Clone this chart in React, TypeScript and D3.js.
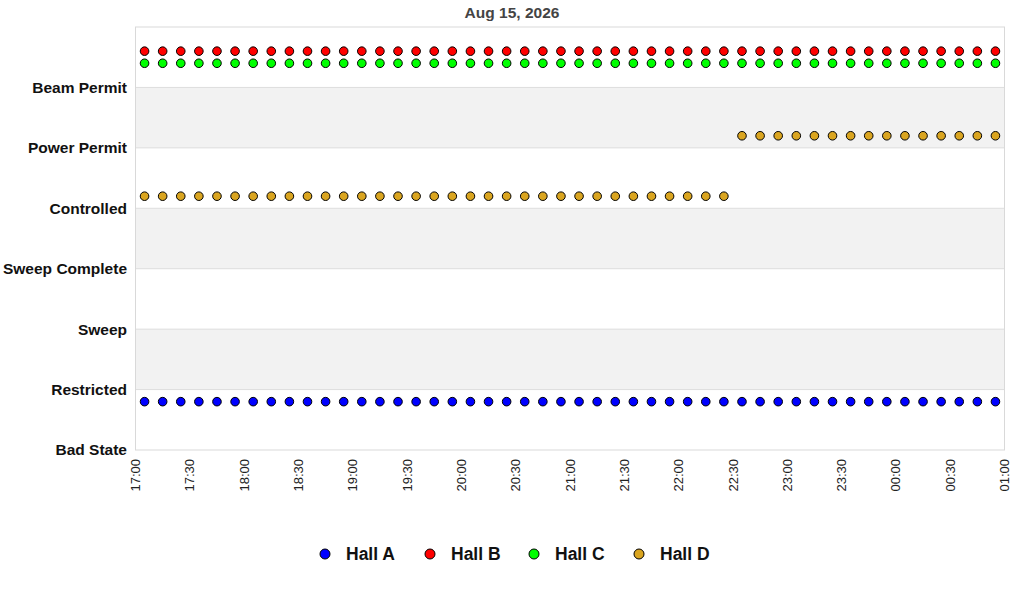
import React, { useRef, useEffect } from 'react';
import * as d3 from 'd3';

// state levels, bottom to top (the top band has no label)
const levels = ['Bad State', 'Restricted', 'Sweep', 'Sweep Complete', 'Controlled', 'Power Permit', 'Beam Permit'];

// sample times (17:05 on Aug 15 through 00:55 on Aug 16)
const times = [
  '17:05', '17:15', '17:25', '17:35', '17:45', '17:55',
  '18:05', '18:15', '18:25', '18:35', '18:45', '18:55',
  '19:05', '19:15', '19:25', '19:35', '19:45', '19:55',
  '20:05', '20:15', '20:25', '20:35', '20:45', '20:55',
  '21:05', '21:15', '21:25', '21:35', '21:45', '21:55',
  '22:05', '22:15', '22:25', '22:35', '22:45', '22:55',
  '23:05', '23:15', '23:25', '23:35', '23:45', '23:55',
  '00:05', '00:15', '00:25', '00:35', '00:45', '00:55',
];

// level index per sample
const hallA = [
  0, 0, 0, 0, 0, 0, 0, 0, 0, 0, 0, 0, 0, 0, 0, 0, 0, 0, 0, 0, 0, 0, 0, 0,
  0, 0, 0, 0, 0, 0, 0, 0, 0, 0, 0, 0, 0, 0, 0, 0, 0, 0, 0, 0, 0, 0, 0, 0,
];
const hallB = [
  6, 6, 6, 6, 6, 6, 6, 6, 6, 6, 6, 6, 6, 6, 6, 6, 6, 6, 6, 6, 6, 6, 6, 6,
  6, 6, 6, 6, 6, 6, 6, 6, 6, 6, 6, 6, 6, 6, 6, 6, 6, 6, 6, 6, 6, 6, 6, 6,
];
const hallC = [
  6, 6, 6, 6, 6, 6, 6, 6, 6, 6, 6, 6, 6, 6, 6, 6, 6, 6, 6, 6, 6, 6, 6, 6,
  6, 6, 6, 6, 6, 6, 6, 6, 6, 6, 6, 6, 6, 6, 6, 6, 6, 6, 6, 6, 6, 6, 6, 6,
];
const hallD = [
  4, 4, 4, 4, 4, 4, 4, 4, 4, 4, 4, 4, 4, 4, 4, 4, 4, 4, 4, 4, 4, 4, 4, 4,
  4, 4, 4, 4, 4, 4, 4, 4, 4, 5, 5, 5, 5, 5, 5, 5, 5, 5, 5, 5, 5, 5, 5, 5,
];

const halls = ['Hall A', 'Hall B', 'Hall C', 'Hall D'];
const hallColors = ['#0000ff', '#ff0000', '#00ff00', '#daa520'];
const hallOffsets = [0.8, 0.6, 0.4, 0.2];
const hallSeries = [hallA, hallB, hallC, hallD];

const title = 'Aug 15, 2026';
const startTime = '2026-08-15 17:00';
const endTime = '2026-08-16 01:00';

const W = 1024;
const H = 600;
const margin = { top: 27, right: 19.5, bottom: 150, left: 135.5 };
const font = 'Arial, "Liberation Sans", Helvetica, sans-serif';

const parse = d3.timeParse('%Y-%m-%d %H:%M');
const toDate = (t: string) => {
  const day = +t.slice(0, 2) < 12 ? '2026-08-16' : '2026-08-15';
  return parse(`${day} ${t}`) as Date;
};

const App: React.FC = () => {
  const svgRef = useRef<SVGSVGElement>(null);

  useEffect(() => {
    if (!svgRef.current) return;
    const svg = d3.select(svgRef.current);
    svg.selectAll('*').remove();

    const x0 = margin.left;
    const x1 = W - margin.right;
    const y0 = H - margin.bottom;
    const y1 = margin.top;

    const x = d3.scaleTime()
      .domain([parse(startTime) as Date, parse(endTime) as Date])
      .range([x0, x1]);
    const y = d3.scaleLinear().domain([0, levels.length]).range([y0, y1]);

    // alternating bands
    svg.append('g')
      .selectAll('rect')
      .data(d3.range(levels.length))
      .enter()
      .append('rect')
      .attr('x', x0)
      .attr('width', x1 - x0)
      .attr('y', (i) => y(i + 1))
      .attr('height', (i) => y(i) - y(i + 1))
      .attr('fill', (i) => (i % 2 === 1 ? '#f2f2f2' : '#ffffff'));

    // horizontal grid lines
    svg.append('g')
      .selectAll('line')
      .data(d3.range(1, levels.length))
      .enter()
      .append('line')
      .attr('x1', x0)
      .attr('x2', x1)
      .attr('y1', (i) => y(i))
      .attr('y2', (i) => y(i))
      .attr('stroke', '#dddddd')
      .attr('stroke-width', 1);

    // plot border
    svg.append('rect')
      .attr('x', x0)
      .attr('y', y1)
      .attr('width', x1 - x0)
      .attr('height', y0 - y1)
      .attr('fill', 'none')
      .attr('stroke', '#d9d9d9')
      .attr('stroke-width', 1);

    // y labels
    svg.append('g')
      .selectAll('text')
      .data(levels)
      .enter()
      .append('text')
      .attr('x', x0 - 8.5)
      .attr('y', (_d, i) => y(i))
      .attr('dy', '0.35em')
      .attr('text-anchor', 'end')
      .attr('font-family', font)
      .attr('font-size', '15.5px')
      .attr('font-weight', 'bold')
      .attr('fill', '#111')
      .text((d) => d);

    // x labels
    const ticks = x.ticks(d3.timeMinute.every(30) as d3.TimeInterval);
    const fmt = d3.timeFormat('%H:%M');
    svg.append('g')
      .selectAll('text')
      .data(ticks)
      .enter()
      .append('text')
      .attr('transform', (d) => `translate(${x(d)}, ${y0 + 9}) rotate(-90)`)
      .attr('dy', '0.35em')
      .attr('text-anchor', 'end')
      .attr('font-family', font)
      .attr('font-size', '13px')
      .attr('fill', '#222')
      .text((d) => fmt(d));

    // points
    hallSeries.forEach((series, h) => {
      svg.append('g')
        .selectAll('circle')
        .data(series)
        .enter()
        .append('circle')
        .attr('cx', (_d, i) => x(toDate(times[i])))
        .attr('cy', (d) => y(d + hallOffsets[h]))
        .attr('r', 4.3)
        .attr('fill', hallColors[h])
        .attr('stroke', '#000')
        .attr('stroke-width', 1);
    });

    // title
    svg.append('text')
      .attr('x', W / 2)
      .attr('y', 13)
      .attr('dy', '0.35em')
      .attr('text-anchor', 'middle')
      .attr('font-family', font)
      .attr('font-size', '15.5px')
      .attr('font-weight', 'bold')
      .attr('fill', '#444')
      .text(title);

    // legend
    const legendX = [325, 430, 534, 639];
    const legend = svg.append('g')
      .selectAll('g')
      .data(halls)
      .enter()
      .append('g')
      .attr('transform', (_d, i) => `translate(${legendX[i]}, 554)`);
    legend.append('circle')
      .attr('r', 5)
      .attr('fill', (_d, i) => hallColors[i])
      .attr('stroke', '#000')
      .attr('stroke-width', 1);
    legend.append('text')
      .attr('x', 21)
      .attr('dy', '0.35em')
      .attr('font-family', font)
      .attr('font-size', '17.5px')
      .attr('font-weight', 'bold')
      .attr('fill', '#111')
      .text((d) => d);
  }, []);

  return (
    <svg
      ref={svgRef}
      width={W}
      height={H}
      style={{ position: 'absolute', left: 0, top: 0, background: '#fff' }}
    />
  );
};

export default App;
